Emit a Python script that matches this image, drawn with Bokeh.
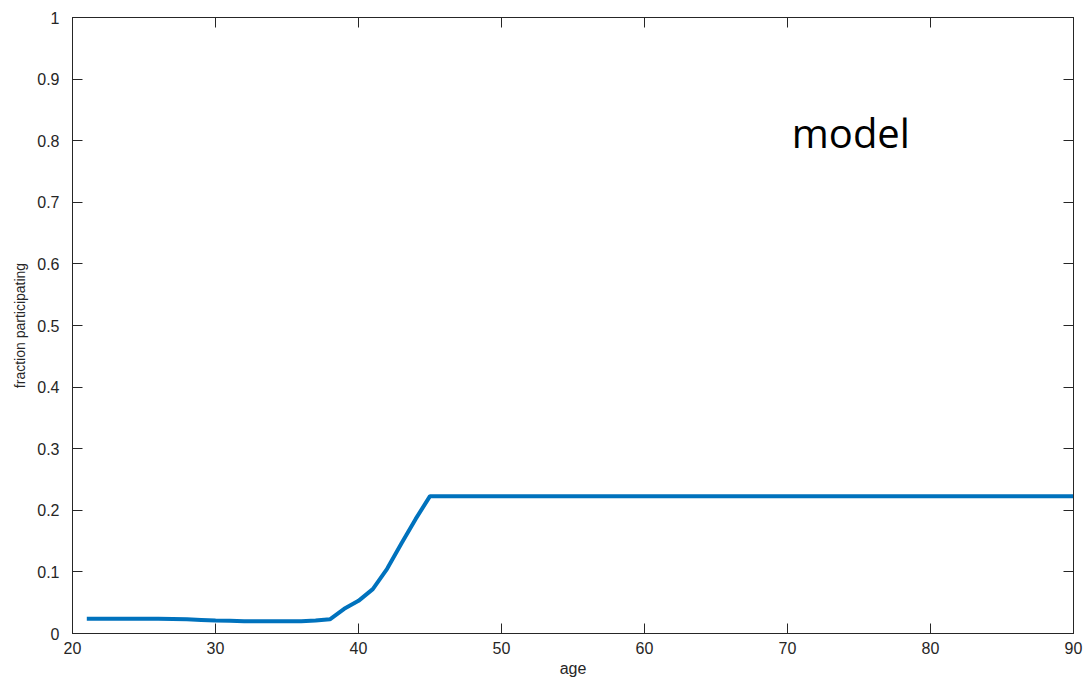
from bokeh.plotting import figure
from bokeh.models import LinearAxis, Range1d, FixedTicker, CustomJSTickFormatter
from bokeh.core.properties import value
from bokeh.embed import file_html
from bokeh.resources import INLINE

ages = [21, 22, 23, 24, 25, 26, 27, 28, 29, 30, 31, 32, 33, 34, 35, 36, 37, 38,
        39, 40, 41, 42, 43, 44, 45, 50, 55, 60, 65, 70, 75, 80, 85, 90]
fraction = [0.024, 0.024, 0.024, 0.024, 0.024, 0.024, 0.0235, 0.023, 0.022, 0.021,
            0.0205, 0.020, 0.0198, 0.0197, 0.0198, 0.020, 0.021, 0.023,
            0.040, 0.053, 0.072, 0.105, 0.146, 0.186, 0.223,
            0.223, 0.223, 0.223, 0.223, 0.223, 0.223, 0.223, 0.223, 0.223]
x_ticks = [20, 30, 40, 50, 60, 70, 80, 90]
y_ticks = [0, 0.1, 0.2, 0.3, 0.4, 0.5, 0.6, 0.7, 0.8, 0.9, 1.0]
annotation = "model"
annot_x = 70.3
annot_y = 0.8136

AX = "#262626"
FONT = "Liberation Sans"

p = figure(width=1086, height=679, output_backend="svg", toolbar_location=None,
           x_range=Range1d(20, 90), y_range=Range1d(0, 1),
           min_border_left=72, min_border_right=13, min_border_top=17,
           min_border_bottom=44, background_fill_color="white",
           border_fill_color="white")
p.xgrid.visible = False
p.ygrid.visible = False
p.outline_line_color = AX
p.outline_line_width = 1

p.line(ages, fraction, line_color="#0072BD", line_width=4)

p.text(x=[annot_x], y=[annot_y], text=[annotation], text_font=value("Open Sans"),
       text_font_size="40px", text_color="black", text_baseline="alphabetic",
       text_align="left")

def style(ax, ticks):
    ax.ticker = FixedTicker(ticks=ticks)
    ax.minor_tick_line_color = None
    ax.major_tick_in = 10
    ax.major_tick_out = 0
    ax.axis_line_color = AX
    ax.major_tick_line_color = AX
    ax.major_label_text_color = AX
    ax.major_label_text_font = FONT
    ax.major_label_text_font_size = "16px"
    ax.axis_label_text_font = FONT
    ax.axis_label_text_font_style = "normal"
    ax.axis_label_text_color = AX

xa = p.xaxis[0]
style(xa, x_ticks)
xa.axis_label = "age"
xa.axis_label_text_font_size = "16px"
xa.major_label_standoff = 8
xa.axis_label_standoff = 3

ya = p.yaxis[0]
style(ya, y_ticks)
ya.axis_label = "fraction participating"
ya.axis_label_text_font_size = "14px"
ya.major_label_standoff = 13
ya.axis_label_standoff = 6
ya.major_label_overrides = {0: "0", 1: "1"}

blank = CustomJSTickFormatter(code="return '';")
for loc, ticks in (("right", y_ticks), ("above", x_ticks)):
    ax = LinearAxis(formatter=blank)
    style(ax, ticks)
    ax.major_label_text_font_size = "1px"
    ax.major_label_standoff = 0
    p.add_layout(ax, loc)

open("out.html", "w").write(file_html(p, INLINE))
